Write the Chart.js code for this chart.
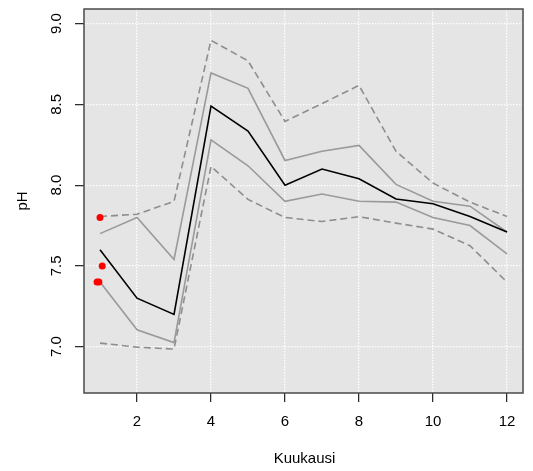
<!DOCTYPE html>
<html>
<head>
<meta charset="utf-8">
<script src="https://cdn.jsdelivr.net/npm/chart.js@4"></script>
<style>
  html, body { margin: 0; padding: 0; background: #ffffff; }
  #wrap { width: 533px; height: 471px; }
</style>
</head>
<body>
<div id="wrap"><canvas id="c" width="533" height="471"></canvas></div>
<script>
// Monthly pH: mean, inner band, outer band and individual observations
const months = [1, 2, 3, 4, 5, 6, 7, 8, 9, 10, 11, 12];
const phMean   = [7.60, 7.30, 7.20, 8.49, 8.335, 8.00, 8.10, 8.04, 7.914, 7.885, 7.806, 7.71];
const phInnerHi = [7.70, 7.80, 7.54, 8.695, 8.60, 8.153, 8.21, 8.246, 8.005, 7.90, 7.87, 7.71];
const phInnerLo = [7.40, 7.104, 7.025, 8.28, 8.12, 7.90, 7.945, 7.90, 7.895, 7.80, 7.75, 7.575];
const phOuterHi = [7.806, 7.82, 7.90, 8.897, 8.77, 8.395, 8.505, 8.618, 8.21, 8.013, 7.895, 7.806];
const phOuterLo = [7.022, 6.997, 6.985, 8.116, 7.912, 7.80, 7.775, 7.805, 7.765, 7.728, 7.625, 7.40];

const obsMonth = [1.00, 1.06, 0.92, 0.97];
const obsPH    = [7.80, 7.50, 7.40, 7.40];

const xTicks = [2, 4, 6, 8, 10, 12];
const yTicks = [7.0, 7.5, 8.0, 8.5, 9.0];
const xLabel = 'Kuukausi';
const yLabel = 'pH';

const xRange = [0.567, 12.433];
const yRange = [6.713, 9.091];

const pts = (xs, ys) => xs.map((x, i) => ({ x: x, y: ys[i] }));

const FONT = '"Liberation Sans", Arial, sans-serif';

const frame = {
  id: 'frame',
  beforeDraw(chart) {
    const a = chart.chartArea, ctx = chart.ctx;
    ctx.save();
    ctx.fillStyle = '#e5e5e5';
    ctx.fillRect(a.left, a.top, a.right - a.left, a.bottom - a.top);
    ctx.restore();
  },
  afterDraw(chart) {
    const a = chart.chartArea, ctx = chart.ctx;
    const xs = chart.scales.x, ys = chart.scales.y;
    ctx.save();
    ctx.strokeStyle = '#4a4a4a';
    ctx.lineWidth = 1.5;
    ctx.strokeRect(a.left, a.top, a.right - a.left, a.bottom - a.top);

    ctx.fillStyle = '#000000';
    ctx.font = '15px ' + FONT;
    ctx.textAlign = 'center';
    ctx.textBaseline = 'middle';
    xTicks.forEach(v => {
      ctx.fillText(String(v), xs.getPixelForValue(v), 422);
    });
    yTicks.forEach(v => {
      ctx.save();
      ctx.translate(57, ys.getPixelForValue(v));
      ctx.rotate(-Math.PI / 2);
      ctx.fillText(v.toFixed(1), 0, 0);
      ctx.restore();
    });
    ctx.fillText(xLabel, (a.left + a.right) / 2 + 1, 459);
    ctx.save();
    ctx.translate(23, (a.top + a.bottom) / 2);
    ctx.rotate(-Math.PI / 2);
    ctx.fillText(yLabel, 0, 0);
    ctx.restore();
    ctx.restore();
  }
};

const lineSet = (data, color, width, dash) => ({
  data: pts(months, data),
  showLine: true,
  borderColor: color,
  backgroundColor: color,
  borderWidth: width,
  borderDash: dash,
  pointRadius: 0,
  pointHoverRadius: 0,
  fill: false,
  tension: 0
});

new Chart(document.getElementById('c'), {
  type: 'scatter',
  data: {
    datasets: [
      {
        data: pts(obsMonth, obsPH),
        showLine: false,
        pointRadius: 3.5,
        pointBorderWidth: 0,
        backgroundColor: '#ff0000',
        borderColor: '#ff0000'
      },
      lineSet(phMean, '#000000', 1.6, []),
      lineSet(phInnerHi, '#9a9a9a', 1.6, []),
      lineSet(phInnerLo, '#9a9a9a', 1.6, []),
      lineSet(phOuterHi, '#8e8e8e', 1.6, [7, 4]),
      lineSet(phOuterLo, '#8e8e8e', 1.6, [7, 4])
    ]
  },
  options: {
    responsive: false,
    animation: false,
    events: [],
    layout: { padding: { left: 0, top: 9, right: 10, bottom: 0 } },
    plugins: { legend: { display: false }, tooltip: { enabled: false } },
    scales: {
      x: {
        type: 'linear',
        min: xRange[0],
        max: xRange[1],
        afterBuildTicks: s => { s.ticks = xTicks.map(v => ({ value: v })); },
        afterFit: s => { s.height = 78; },
        ticks: { display: false },
        grid: {
          color: '#ffffff',
          lineWidth: 1.3,
          drawTicks: true,
          tickLength: 9,
          tickColor: '#222222',
          tickWidth: 1.2,
          tickBorderDash: []
        },
        border: { display: false, dash: [1.5, 1.5] }
      },
      y: {
        type: 'linear',
        min: yRange[0],
        max: yRange[1],
        afterBuildTicks: s => { s.ticks = yTicks.map(v => ({ value: v })); },
        afterFit: s => { s.width = 84; },
        ticks: { display: false },
        grid: {
          color: '#ffffff',
          lineWidth: 1.3,
          drawTicks: true,
          tickLength: 9,
          tickColor: '#222222',
          tickWidth: 1.2,
          tickBorderDash: []
        },
        border: { display: false, dash: [1.5, 1.5] }
      }
    }
  },
  plugins: [frame]
});
</script>
</body>
</html>
